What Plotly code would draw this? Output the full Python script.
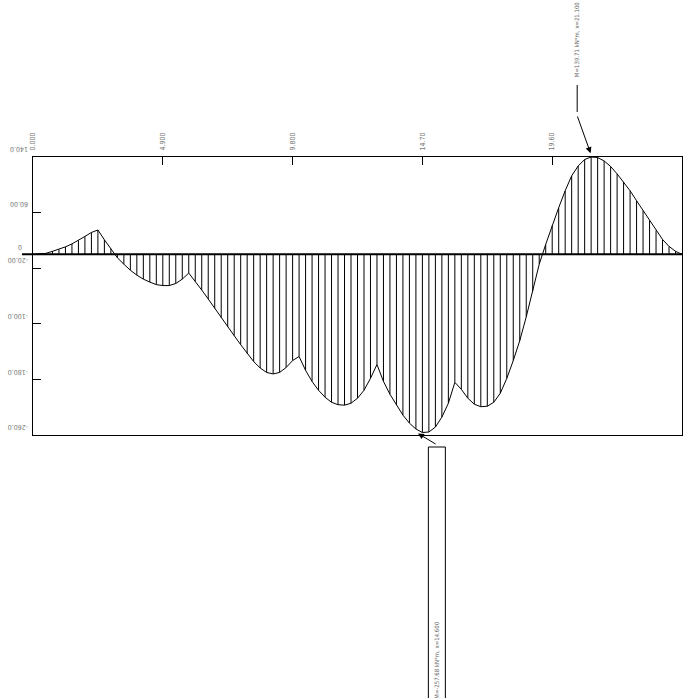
import plotly.graph_objects as go

# Stations along the member (m)
stations = [0, 0.245, 0.49, 0.735, 0.98, 1.225, 1.47, 1.715, 1.96, 2.205,
            2.45, 2.695, 2.94, 3.185, 3.43, 3.675, 3.92, 4.165, 4.41, 4.655,
            4.9, 5.145, 5.39, 5.635, 5.88, 6.125, 6.37, 6.615, 6.86, 7.105,
            7.35, 7.595, 7.84, 8.085, 8.33, 8.575, 8.82, 9.065, 9.31, 9.555,
            9.8, 10.045, 10.29, 10.535, 10.78, 11.025, 11.27, 11.515, 11.76, 12.005,
            12.25, 12.495, 12.74, 12.985, 13.23, 13.475, 13.72, 13.965, 14.21, 14.455,
            14.7, 14.945, 15.19, 15.435, 15.68, 15.925, 16.17, 16.415, 16.66, 16.905,
            17.15, 17.395, 17.64, 17.885, 18.13, 18.375, 18.62, 18.865, 19.11, 19.355,
            19.6, 19.845, 20.09, 20.335, 20.58, 20.825, 21.07, 21.315, 21.56, 21.805,
            22.05, 22.295, 22.54, 22.785, 23.03, 23.275, 23.52, 23.765, 24.01, 24.255, 24.5]

# Bending moment (kN*m)
moment = [0, 0.5, 1.4, 4.3, 7.1, 10.7, 15.0, 20.0, 25.7, 31.4,
          35.0, 20.9, 8.0, -5.0, -14.3, -22.9, -30.0, -35.7, -40.0, -43.6,
          -45.0, -45.0, -42.0, -35.7, -27.0, -38.6, -51.4, -64.3, -77.9, -91.4,
          -104.3, -117.1, -130.0, -142.9, -154.3, -163.6, -170.0, -172.1, -170.0, -162.9,
          -152.9, -147.0, -167.0, -183.0, -195.7, -205.7, -212.9, -216.4, -217.1, -214.3,
          -207.1, -195.7, -178.6, -158.6, -182.9, -201.4, -217.1, -231.4, -242.9, -251.4,
          -256.4, -255.7, -248.6, -234.3, -214.3, -184.3, -194.3, -207.1, -215.7, -219.3,
          -218.6, -212.9, -200.0, -178.6, -152.9, -124.3, -90.0, -52.9, -14.3, 14.3,
          41.4, 67.1, 91.4, 112.9, 127.1, 136.4, 140.0, 139.3, 134.3, 126.4,
          115.7, 104.3, 91.4, 77.1, 62.9, 48.6, 34.3, 21.4, 11.4, 4.3, 0]

x_ticks = [0, 4.9, 9.8, 14.7, 19.6, 24.5]
x_tick_labels = ["0.000", "4.900", "9.800", "14.70", "19.60", "24.50"]
y_ticks = [140, 60, -20, -100, -180, -260]
y_tick_labels = ["140.0", "60.00", "-20.00", "-100.0", "-180.0", "-260.0"]

max_label = "M=139.71 kN*m, x=21.100"
max_x, max_m = 21.1, 140.0
min_label = "M=-257.68 kN*m, x=14.600"
min_x, min_m = 14.5, -257.0

# hatch lines
hx, hy = [], []
for xs, ms in zip(stations, moment):
    hx += [xs, xs, None]
    hy += [0, ms, None]

fig = go.Figure()
fig.add_trace(go.Scatter(x=hx, y=hy, mode="lines", line=dict(color="black", width=1),
                         hoverinfo="skip", showlegend=False))
fig.add_trace(go.Scatter(x=stations, y=moment, mode="lines", line=dict(color="black", width=1),
                         showlegend=False))

lab_font = dict(family="DejaVu Sans Condensed, DejaVu Sans", size=7, color="#777")
note_font = dict(family="DejaVu Sans Condensed, DejaVu Sans", size=6, color="#666")

fig.update_layout(
    width=683, height=698, autosize=False,
    margin=dict(l=33, r=1, t=157, b=263),
    paper_bgcolor="white", plot_bgcolor="white",
    showlegend=False,
    xaxis=dict(range=[0, 24.5], side="top", tickmode="array", tickvals=x_ticks,
               ticktext=x_tick_labels, ticks="inside", ticklen=8, tickcolor="black",
               tickangle=-90, tickfont=lab_font, showgrid=False, zeroline=False,
               showline=True, linecolor="black", linewidth=1, mirror=True,
               ticklabelstandoff=4, automargin=False),
    yaxis=dict(range=[-260, 140], tickmode="array", tickvals=y_ticks,
               ticks="inside", ticklen=8, tickcolor="black", showticklabels=False,
               showgrid=False, zeroline=False,
               showline=True, linecolor="black", linewidth=1, mirror=True,
               automargin=False),
)

# y tick labels, drawn upside down as in the reference
for v, t in zip(y_ticks, y_tick_labels):
    fig.add_annotation(xref="paper", yref="y", x=-0.0046, y=v, yshift=8, text=t,
                       xanchor="right", showarrow=False, textangle=180, font=lab_font)

# zero line, extended a little left of the axis
fig.add_shape(type="line", xref="paper", yref="y", x0=-0.017, x1=1, y0=0, y1=0,
              line=dict(color="black", width=2))
fig.add_annotation(xref="paper", yref="y", x=-0.027, y=0, yshift=8, text="0",
                   showarrow=False, textangle=180, font=lab_font)

# max annotation
fig.add_annotation(x=max_x, y=max_m, text="", showarrow=True, arrowhead=2, arrowsize=1.2,
                   arrowwidth=1, arrowcolor="black", ax=-15, ay=-42, standoff=4)
fig.add_shape(type="line", xref="paper", yref="paper", x0=0.8385, x1=0.8385,
              y0=1.259, y1=1.162, line=dict(color="black", width=1))
fig.add_annotation(xref="paper", yref="paper", x=0.8385, y=1.421, text=max_label,
                   xanchor="center", yanchor="middle",
                   showarrow=False, textangle=-90, font=note_font)

# min annotation
fig.add_annotation(x=min_x, y=min_m, text="", showarrow=True, arrowhead=2, arrowsize=1.2,
                   arrowwidth=1, arrowcolor="black", ax=20, ay=12, standoff=1)
fig.add_shape(type="rect", xref="paper", yref="paper", x0=0.6092, x1=0.6354,
              y0=-0.0432, y1=-0.96, line=dict(color="black", width=1))
fig.add_annotation(xref="paper", yref="paper", x=0.6223, y=-0.809, text=min_label,
                   xanchor="center", yanchor="middle",
                   showarrow=False, textangle=-90, font=note_font)

fig.write_html("out.html", config={"responsive": False, "displayModeBar": False},
               post_script="document.body.style.margin='0';document.body.style.overflow='hidden';")
